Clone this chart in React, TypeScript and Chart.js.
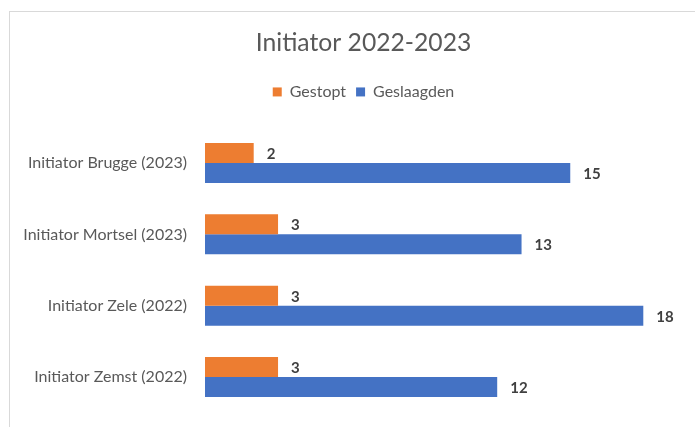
import React, { useEffect, useRef } from "react";
import { Chart, registerables } from "chart.js";

Chart.register(...registerables);

const categories = [
  "Initiator Brugge (2023)",
  "Initiator Mortsel (2023)",
  "Initiator Zele (2022)",
  "Initiator Zemst (2022)",
];
const gestopt = [2, 3, 3, 3];
const geslaagden = [15, 13, 18, 12];
const titleText = "Initiator 2022-2023";
const seriesNames = ["Gestopt", "Geslaagden"];

const FONT = "Lato, 'Open Sans', sans-serif";
const CANVAS_W = 727;
const CANVAS_H = 427;

const valueLabels = {
  id: "valueLabels",
  afterDatasetsDraw(chart: any) {
    const ctx = chart.ctx;
    ctx.save();
    ctx.font = `bold 15px ${FONT}`;
    ctx.fillStyle = "#404040";
    ctx.textAlign = "left";
    ctx.textBaseline = "middle";
    chart.data.datasets.forEach((ds: any, i: number) => {
      const meta = chart.getDatasetMeta(i);
      meta.data.forEach((bar: any, j: number) => {
        ctx.fillText(String(ds.data[j]), bar.x + 13, bar.y + 1);
      });
    });
    ctx.restore();
  },
};

export default function App() {
  const ref = useRef<HTMLCanvasElement>(null);
  useEffect(() => {
    const chart = new Chart(ref.current!, {
      type: "bar",
      data: {
        labels: categories,
        datasets: [
          {
            label: seriesNames[0],
            data: gestopt,
            backgroundColor: "#ED7D31",
            categoryPercentage: 0.561,
            barPercentage: 1,
          },
          {
            label: seriesNames[1],
            data: geslaagden,
            backgroundColor: "#4472C4",
            categoryPercentage: 0.561,
            barPercentage: 1,
          },
        ],
      },
      options: {
        indexAxis: "y",
        animation: false,
        responsive: false,
        layout: { padding: { top: 0, bottom: 14.3, right: 0, left: 0 } },
        plugins: {
          title: {
            display: true,
            text: titleText,
            color: "#595959",
            font: { family: FONT, size: 24.7, weight: "normal" },
            padding: { top: 28.2, bottom: 16.1 },
          },
          legend: {
            display: true,
            labels: {
              color: "#595959",
              font: { family: FONT, size: 16 },
              boxWidth: 9,
              boxHeight: 9,
              padding: 10,
            },
          },
          tooltip: { enabled: false },
        },
        scales: {
          x: {
            position: "top",
            min: 0,
            max: 20,
            display: true,
            grid: { display: false, drawTicks: false },
            border: { display: false },
            ticks: { display: false },
            afterFit(scale: any) {
              scale.height = 17.4;
              scale.paddingLeft = 0;
              scale.paddingRight = CANVAS_W - 692;
            },
          },
          y: {
            grid: { display: false, drawTicks: false },
            border: { display: false },
            ticks: {
              color: "#595959",
              font: { family: FONT, size: 16 },
              padding: 18,
            },
            afterFit(scale: any) {
              scale.width = 205;
              scale.paddingTop = 0;
              scale.paddingBottom = 0;
            },
          },
        },
      },
      plugins: [valueLabels],
    });
    return () => chart.destroy();
  }, []);
  return (
    <div style={{ position: "fixed", left: 0, top: 0, width: 695, height: 427, background: "#fff", overflow: "hidden" }}>
      <div
        style={{
          position: "absolute",
          left: 9,
          top: 11,
          width: 740,
          height: 440,
          border: "1px solid #d9d9d9",
          boxSizing: "border-box",
        }}
      />
      <canvas
        ref={ref}
        width={CANVAS_W}
        height={CANVAS_H}
        style={{ position: "absolute", left: 0, top: 0, width: CANVAS_W, height: CANVAS_H }}
      />
    </div>
  );
}
